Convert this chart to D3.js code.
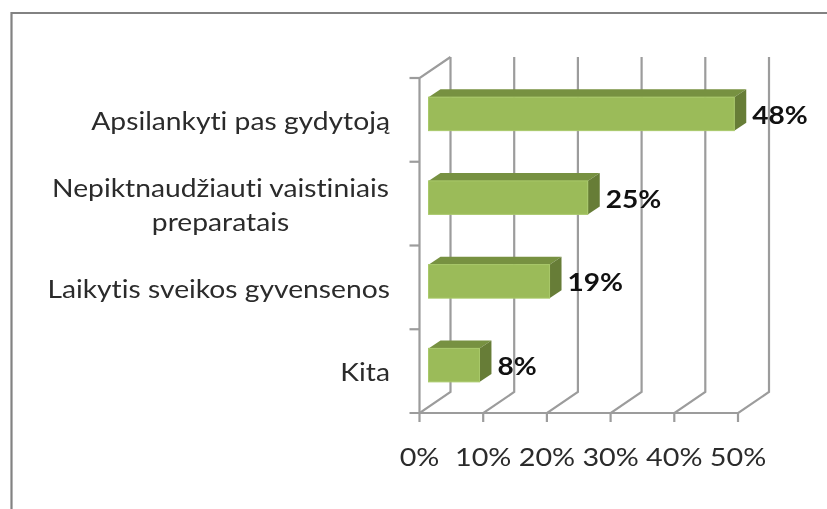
<!DOCTYPE html>
<html><head><meta charset="utf-8">
<script src="https://cdn.jsdelivr.net/npm/d3@7"></script>
<style>html,body{margin:0;padding:0;background:#fff}svg{display:block;filter:blur(0.45px)}text{font-variant-ligatures:none;font-feature-settings:"liga" 0}</style>
</head><body><svg id="c" width="827" height="509"></svg>
<script>
const categories = [["Apsilankyti pas gydytoją"],["Nepiktnaudžiauti vaistiniais","preparatais"],["Laikytis sveikos gyvensenos"],["Kita"]];
const values = [48,25,19,8];
const xTicks = [0,10,20,30,40,50];
const svg = d3.select("#c");
const font = "Lato, 'Open Sans', sans-serif";
const grid = "#9c9c9c";
const dx = 31, dy = -21;
const x = d3.scaleLinear().domain([0,50]).range([419.5,738]);
const y = d3.scaleBand().domain(d3.range(categories.length)).range([78,413]);
const len = d3.scaleLinear().domain([0,50]).range([0,318.5]);
svg.append("path").attr("d","M11.5,509V13H827").attr("fill","none").attr("stroke","#828282").attr("stroke-width",2.2);
const g = svg.append("g").attr("fill","none").attr("stroke",grid).attr("stroke-width",2.2);
xTicks.forEach(t=>{
  g.append("path").attr("d",`M${x(t)},422V413L${x(t)+dx},${413+dy}V${78+dy}`);
});
g.append("path").attr("d",`M${x(0)},413V78L${x(0)+dx},${78+dy}`);
g.append("path").attr("d",`M${x(0)-10},413H${x(50)}`);
y.domain().forEach(i=>g.append("path").attr("d",`M${x(0)-10},${y(i)}H${x(0)}`));
const label = (px,py,s,anchor,size,weight,fill,sx) =>
  svg.append("text").attr("transform",`translate(${px},${py}) scale(${sx},1)`)
    .attr("text-anchor",anchor).attr("font-family",font).attr("font-size",size)
    .attr("font-weight",weight).attr("fill",fill).text(s);
const ox=9, ody=-6, bh=33.5, tx=12, ty=-8;
values.forEach((v,i)=>{
  const x0=x(0)+ox, x1=x0+len(v), yc=y(i)+y.bandwidth()/2+ody, t=yc-bh/2, b=yc+bh/2;
  svg.append("path").attr("d",`M${x0},${t}l${tx},${ty}H${x1+tx}L${x1},${t}Z`).attr("fill","#779141");
  svg.append("path").attr("d",`M${x1},${t}l${tx},${ty}V${b+ty}L${x1},${b}Z`).attr("fill","#677d37");
  svg.append("rect").attr("x",x0).attr("y",t).attr("width",len(v)).attr("height",bh).attr("fill","#9bbb59").attr("stroke","#a9c96a").attr("stroke-width",1);
  label(x1+tx+6,yc+10,v+"%","start",24,700,"#111",1.17);
});
categories.forEach((lines,i)=>{
  const yc=y(i)+y.bandwidth()/2;
  lines.forEach((s,j)=>{
    const py = yc+10.3+(j-(lines.length-1)/2)*33.5;
    if(lines.length>1) label(220.5,py,s,"middle",25,400,"#2b2b2b",1.13);
    else label(390,py,s,"end",25,400,"#2b2b2b",1.13);
  });
});
xTicks.forEach(t=>label(x(t),466,t+"%","middle",25,400,"#2b2b2b",1.15));
</script></body></html>
